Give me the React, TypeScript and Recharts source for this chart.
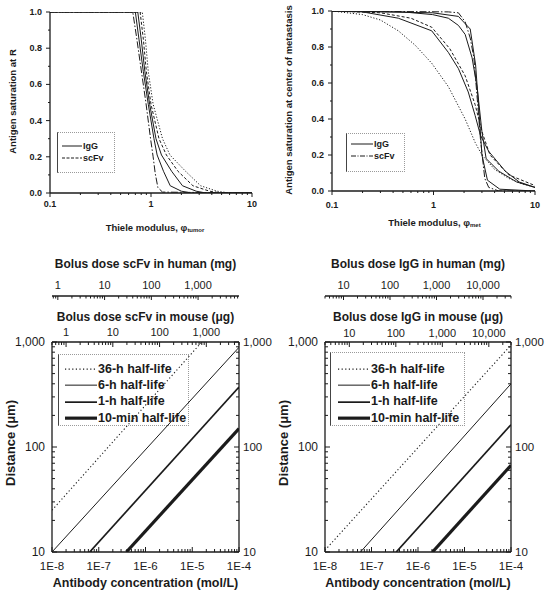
import React from 'react';
import { LineChart, Line, XAxis, YAxis, Legend, Label } from 'recharts';

const FONT = '"Liberation Sans", Arial, Helvetica, sans-serif';
const INK = '#1b1b1b';

type Pt = { x: number; y: number };
type Dose = { c: number; d: number };

// top-left: antigen saturation at R vs tumor Thiele modulus
const tumorA: Pt[] = [
  { x: 0.1, y: 1 }, { x: 0.66, y: 1 }, { x: 0.72, y: 0.86 }, { x: 0.8, y: 0.68 }, { x: 0.89, y: 0.5 },
  { x: 0.99, y: 0.3 }, { x: 1.05, y: 0.2 }, { x: 1.1, y: 0.11 }, { x: 1.17, y: 0.03 }, { x: 1.3, y: 0.005 }, { x: 10, y: 0 },
];
const tumorB: Pt[] = [
  { x: 0.1, y: 1 }, { x: 0.7, y: 1 }, { x: 0.76, y: 0.85 }, { x: 0.84, y: 0.67 }, { x: 0.94, y: 0.49 },
  { x: 1.07, y: 0.3 }, { x: 1.15, y: 0.21 }, { x: 1.33, y: 0.12 }, { x: 1.55, y: 0.04 }, { x: 2, y: 0.01 }, { x: 2.5, y: 0 }, { x: 10, y: 0 },
];
const tumorC: Pt[] = [
  { x: 0.1, y: 1 }, { x: 0.74, y: 1 }, { x: 0.8, y: 0.85 }, { x: 0.87, y: 0.67 }, { x: 0.97, y: 0.49 },
  { x: 1.12, y: 0.3 }, { x: 1.27, y: 0.21 }, { x: 1.6, y: 0.12 }, { x: 2.05, y: 0.04 }, { x: 2.8, y: 0.01 }, { x: 3.5, y: 0 }, { x: 10, y: 0 },
];
const tumorD: Pt[] = [
  { x: 0.1, y: 1 }, { x: 0.78, y: 1 }, { x: 0.84, y: 0.85 }, { x: 0.9, y: 0.67 }, { x: 1.0, y: 0.49 },
  { x: 1.2, y: 0.3 }, { x: 1.42, y: 0.21 }, { x: 1.85, y: 0.12 }, { x: 2.6, y: 0.04 }, { x: 3.8, y: 0.01 }, { x: 5, y: 0 }, { x: 10, y: 0 },
];
const tumorE: Pt[] = [
  { x: 0.1, y: 1 }, { x: 0.82, y: 1 }, { x: 0.88, y: 0.85 }, { x: 0.94, y: 0.67 }, { x: 1.05, y: 0.49 },
  { x: 1.3, y: 0.3 }, { x: 1.54, y: 0.21 }, { x: 2.2, y: 0.12 }, { x: 3.1, y: 0.04 }, { x: 4.5, y: 0.01 }, { x: 6, y: 0 }, { x: 10, y: 0 },
];

// top-right: saturation at the center of a metastasis
const metA: Pt[] = [
  { x: 0.1, y: 1 }, { x: 0.2, y: 0.98 }, { x: 0.3, y: 0.95 }, { x: 0.45, y: 0.89 }, { x: 0.66, y: 0.81 },
  { x: 0.96, y: 0.71 }, { x: 1.4, y: 0.58 }, { x: 2.05, y: 0.4 }, { x: 2.57, y: 0.27 }, { x: 3, y: 0.2 },
  { x: 4, y: 0.12 }, { x: 5.5, y: 0.07 }, { x: 7.5, y: 0.04 }, { x: 10, y: 0.02 },
];
const metB: Pt[] = [
  { x: 0.1, y: 1 }, { x: 0.2, y: 0.995 }, { x: 0.45, y: 0.96 }, { x: 0.96, y: 0.89 }, { x: 1.4, y: 0.77 },
  { x: 1.76, y: 0.68 }, { x: 2.2, y: 0.55 }, { x: 2.57, y: 0.42 }, { x: 2.9, y: 0.31 }, { x: 3.5, y: 0.22 },
  { x: 5.1, y: 0.11 }, { x: 7, y: 0.05 }, { x: 10, y: 0.02 },
];
const metC: Pt[] = [
  { x: 0.1, y: 1 }, { x: 0.3, y: 0.99 }, { x: 0.6, y: 0.96 }, { x: 0.96, y: 0.91 }, { x: 1.45, y: 0.79 },
  { x: 2.05, y: 0.64 }, { x: 2.57, y: 0.48 }, { x: 3, y: 0.33 }, { x: 3.6, y: 0.2 }, { x: 5.5, y: 0.09 }, { x: 10, y: 0.03 },
];
const metD: Pt[] = [
  { x: 0.1, y: 1 }, { x: 0.5, y: 0.995 }, { x: 0.98, y: 0.98 }, { x: 1.4, y: 0.96 }, { x: 1.76, y: 0.92 },
  { x: 2.05, y: 0.87 }, { x: 2.4, y: 0.74 }, { x: 2.7, y: 0.57 }, { x: 3, y: 0.33 }, { x: 3.3, y: 0.18 },
  { x: 4.4, y: 0.11 }, { x: 6.6, y: 0.05 }, { x: 10, y: 0.02 },
];
const metE: Pt[] = [
  { x: 0.1, y: 1 }, { x: 1.4, y: 0.995 }, { x: 1.76, y: 0.99 }, { x: 2.05, y: 0.94 }, { x: 2.3, y: 0.85 },
  { x: 2.5, y: 0.74 }, { x: 2.7, y: 0.51 }, { x: 2.9, y: 0.29 }, { x: 3.2, y: 0.07 }, { x: 3.5, y: 0.02 }, { x: 4.4, y: 0 }, { x: 10, y: 0 },
];
const metF: Pt[] = [
  { x: 0.1, y: 1 }, { x: 0.98, y: 0.99 }, { x: 1.76, y: 0.97 }, { x: 2.3, y: 0.9 }, { x: 2.6, y: 0.7 },
  { x: 2.8, y: 0.45 }, { x: 3, y: 0.2 }, { x: 3.4, y: 0.06 }, { x: 4.5, y: 0.01 }, { x: 10, y: 0 },
];

// bottom: penetration distance vs antibody concentration (straight on log-log)
const scfv36h: Dose[] = [{ c: 1e-8, d: 25 }, { c: 1.6e-5, d: 1000 }];
const scfv6h: Dose[] = [{ c: 1e-8, d: 10 }, { c: 1e-4, d: 890 }];
const scfv1h: Dose[] = [{ c: 6.4e-8, d: 10 }, { c: 1e-4, d: 372 }];
const scfv10m: Dose[] = [{ c: 3.9e-7, d: 10 }, { c: 1e-4, d: 150 }];

const igg36h: Dose[] = [{ c: 1e-8, d: 10.4 }, { c: 1e-4, d: 935 }];
const igg6h: Dose[] = [{ c: 5.8e-8, d: 10 }, { c: 1e-4, d: 400 }];
const igg1h: Dose[] = [{ c: 3.4e-7, d: 10 }, { c: 1e-4, d: 163 }];
const igg10m: Dose[] = [{ c: 2.05e-6, d: 10 }, { c: 1e-4, d: 67 }];

// ticks
const thieleRange: [number, number] = [0.1, 10];
const thieleMajors = [0.1, 1, 10];
const thieleLabels = ['0.1', '1', '10'];
const satTicks = [0, 0.1, 0.2, 0.3, 0.4, 0.5, 0.6, 0.7, 0.8, 0.9, 1];
const satMajors = [0, 0.2, 0.4, 0.6, 0.8, 1];
const satLabels = ['0.0', '0.2', '0.4', '0.6', '0.8', '1.0'];
const concMajors = [1e-8, 1e-7, 1e-6, 1e-5, 1e-4];
const concLabels = ['1E-8', '1E-7', '1E-6', '1E-5', '1E-4'];
const distMajors = [10, 100, 1000];
const distLabels = ['10', '100', '1,000'];
const scfvDoseMajors = [1, 10, 100, 1000];
const scfvDoseLabels = ['1', '10', '100', '1,000'];
const iggDoseMajors = [10, 100, 1000, 10000];
const iggDoseLabels = ['10', '100', '1,000', '10,000'];
// dose values at the two ends of the concentration axis (1E-8 .. 1E-4)
const scfvMouseRange: [number, number] = [0.5, 5000];
const scfvHumanRange: [number, number] = [0.75, 7500];
const iggMouseRange: [number, number] = [3, 30000];
const iggHumanRange: [number, number] = [4, 40000];

const halfLifeKeys = [
  { name: '36-h half-life', dash: '1.2 2.4', width: 1.1 },
  { name: '6-h half-life', width: 1 },
  { name: '1-h half-life', width: 1.7 },
  { name: '10-min half-life', width: 3.2 },
];

function logTicks(lo: number, hi: number) {
  const out: number[] = [];
  for (let e = Math.floor(Math.log10(lo)); e <= Math.ceil(Math.log10(hi)); e++) {
    for (let m = 1; m < 10; m++) {
      const v = +(m * Math.pow(10, e)).toPrecision(6);
      if (v >= lo * (1 - 1e-9) && v <= hi * (1 + 1e-9)) out.push(v);
    }
  }
  return out;
}

const same = (a: number, b: number) => (a === 0 ? Math.abs(b) < 1e-12 : Math.abs(a - b) <= 1e-6 * Math.abs(a));

type Side = 'top' | 'bottom' | 'left' | 'right';
type TickSpec = {
  side: Side; inward: boolean; big: number; small: number; gap: number;
  majors: number[]; labels?: string[]; size?: number; weight?: string;
};

// tickSize/tickMargin are 0, so x/y handed in is the axis line itself
function axisTick(s: TickSpec) {
  return (p: any) => {
    const { x, y } = p;
    const v = p.payload.value as number;
    const i = s.majors.findIndex((m) => same(m, v));
    const len = i >= 0 ? s.big : s.small;
    const k = s.inward ? 1 : -1;
    const text = i >= 0 && s.labels ? s.labels[i] : '';
    const font = { fontFamily: FONT, fontSize: s.size ?? 12, fontWeight: s.weight ?? 'normal', fill: INK };
    if (s.side === 'bottom' || s.side === 'top') {
      const dir = s.side === 'bottom' ? -1 : 1;
      return (
        <g>
          <line x1={x} x2={x} y1={y} y2={y + dir * k * len} stroke={INK} strokeWidth={1} />
          {text && (
            <text x={x} y={y - dir * s.gap} textAnchor="middle" dominantBaseline="central" {...font}>{text}</text>
          )}
        </g>
      );
    }
    const dir = s.side === 'left' ? 1 : -1;
    return (
      <g>
        <line x1={x} x2={x + dir * k * len} y1={y} y2={y} stroke={INK} strokeWidth={1} />
        {text && (
          <text x={x - dir * s.gap} y={y} textAnchor={s.side === 'left' ? 'end' : 'start'} dominantBaseline="central" {...font}>{text}</text>
        )}
      </g>
    );
  };
}

const xTitle = (text: React.ReactNode, dy: number, size: number, dx = 0) => (props: any) => {
  const vb = props.viewBox;
  return (
    <text x={vb.x + vb.width / 2 + dx} y={vb.y + dy} textAnchor="middle" dominantBaseline="central"
      fontFamily={FONT} fontSize={size} fontWeight="bold" fill={INK}>{text}</text>
  );
};

const yTitle = (text: string, cx: number, size: number, dy = 0) => (props: any) => {
  const vb = props.viewBox;
  const x = vb.x + cx;
  const y = vb.y + vb.height / 2 + dy;
  return (
    <text x={x} y={y} transform={`rotate(-90 ${x} ${y})`} textAnchor="middle" dominantBaseline="central"
      fontFamily={FONT} fontSize={size} fontWeight="bold" fill={INK}>{text}</text>
  );
};

type KeyItem = { name: string; dash?: string; width?: number };

function KeyBox(props: { items: KeyItem[]; padTop: number; rowH: number; ml: number; w: number; size: number }) {
  const { items, padTop, rowH, ml, w, size } = props;
  return (
    <div style={{
      boxSizing: 'border-box', width: '100%', height: '100%', paddingTop: padTop,
      border: '1px dotted #9a9a9a', borderLeft: '1.4px solid #444', textAlign: 'left',
    }}>
      {items.map((it) => (
        <div key={it.name} style={{ display: 'flex', alignItems: 'center', height: rowH }}>
          <svg width={w} height={rowH} style={{ marginLeft: ml, flex: 'none' }}>
            <line x1={0} x2={w} y1={rowH / 2} y2={rowH / 2} stroke={INK} strokeWidth={it.width ?? 1} strokeDasharray={it.dash} />
          </svg>
          <span style={{ marginLeft: 1, fontFamily: FONT, fontSize: size, fontWeight: 'bold', color: INK, lineHeight: 1, whiteSpace: 'nowrap' }}>
            {it.name}
          </span>
        </div>
      ))}
    </div>
  );
}

const frame = { stroke: INK, strokeWidth: 1.3 };

// an invisible series that gives a data-less secondary axis something to bind to
function Anchor(xKey: string, yKey: string, range: [number, number], y: number, xAxisId: string) {
  return (
    <Line xAxisId={xAxisId} data={[{ [xKey]: range[0], [yKey]: y }, { [xKey]: range[1], [yKey]: y }]} dataKey={yKey}
      stroke="none" dot={false} activeDot={false} legendType="none" isAnimationActive={false} />
  );
}

type Curve = { data: Pt[]; dash?: string; width?: number };

function SatPanel(p: {
  width: number; margin: any; yW: number; xH: number; curves: Curve[];
  yText: string; yCx: number; sub: string; xGap: number; titleDy: number; titleDx: number;
  keyPos: any; keys: KeyItem[]; keyPad: number; keyMl: number; keyW: number;
}) {
  const xTicks = logTicks(thieleRange[0], thieleRange[1]);
  return (
    <LineChart width={p.width} height={240} margin={p.margin}>
      <XAxis dataKey="x" type="number" scale="log" domain={thieleRange} allowDataOverflow ticks={xTicks} interval={0}
        height={p.xH} tickSize={0} tickMargin={0} tickLine={false} axisLine={frame}
        tick={axisTick({ side: 'bottom', inward: false, big: 4, small: 2, gap: p.xGap, majors: thieleMajors, labels: thieleLabels, size: 9, weight: 'bold' })}>
        <Label content={xTitle(
          <>Thiele modulus, φ<tspan fontSize={6} dy={3}>{p.sub}</tspan></>, p.titleDy, 9.5, p.titleDx)} />
      </XAxis>
      <XAxis xAxisId="top" dataKey="x" orientation="top" type="number" scale="log" domain={thieleRange} allowDataOverflow ticks={xTicks}
        interval={0} height={0} tickSize={0} tickMargin={0} tickLine={false} axisLine={frame}
        tick={axisTick({ side: 'top', inward: false, big: 4, small: 2, gap: 0, majors: thieleMajors })} />
      <YAxis type="number" domain={[0, 1]} allowDataOverflow ticks={satTicks} interval={0} width={p.yW}
        tickSize={0} tickMargin={0} tickLine={false} axisLine={frame}
        tick={axisTick({ side: 'left', inward: false, big: 4, small: 2, gap: 8, majors: satMajors, labels: satLabels, size: 9, weight: 'bold' })}>
        <Label content={yTitle(p.yText, p.yCx, 9.5, -1)} />
      </YAxis>
      <YAxis yAxisId="r" orientation="right" type="number" domain={[0, 1]} allowDataOverflow ticks={satTicks} interval={0}
        width={0} tickSize={0} tickMargin={0} tickLine={false} axisLine={frame}
        tick={axisTick({ side: 'right', inward: false, big: 4, small: 2, gap: 0, majors: satMajors })} />
      {Anchor('x', 'y', thieleRange, 0, 'top')}
      {p.curves.map((c, i) => (
        <Line key={i} data={c.data} dataKey="y" type="linear" stroke={INK} strokeWidth={c.width ?? 1}
          strokeDasharray={c.dash} dot={false} activeDot={false} isAnimationActive={false} />
      ))}
      <Legend layout="horizontal" verticalAlign="middle" align="center" wrapperStyle={p.keyPos}
        content={() => <KeyBox items={p.keys} padTop={p.keyPad} rowH={12} ml={p.keyMl} w={p.keyW} size={9} />} />
    </LineChart>
  );
}

function DosePanel(p: {
  width: number; rW: number; lines: Dose[][];
  mouse: [number, number]; human: [number, number]; doseMajors: number[]; doseLabels: string[];
  mouseTitle: string; humanTitle: string; mouseGap: number; humanGap: number;
  keyPos: any; keyPad: number; keyMl: number;
}) {
  const inTick = { inward: true, big: 5, small: 3 };
  return (
    <LineChart width={p.width} height={354} margin={{ top: 0, right: 0, bottom: 0, left: 0 }}>
      <XAxis dataKey="c" type="number" scale="log" domain={[1e-8, 1e-4]} allowDataOverflow ticks={logTicks(1e-8, 1e-4)}
        interval={0} height={42} tickSize={0} tickMargin={0} tickLine={false} axisLine={frame}
        tick={axisTick({ side: 'bottom', ...inTick, gap: 13.5, majors: concMajors, labels: concLabels, size: 11.5 })}>
        <Label content={xTitle('Antibody concentration (mol/L)', 30.5, 12.5)} />
      </XAxis>
      {/* top axes are stacked by id: "dose1" (mouse) sits on the frame, "dose2" (human) above it */}
      <XAxis xAxisId="dose1" dataKey="c" orientation="top" type="number" scale="log" domain={p.mouse} allowDataOverflow
        ticks={logTicks(p.mouse[0], p.mouse[1])} interval={0} height={46} tickSize={0} tickMargin={0} tickLine={false}
        axisLine={frame}
        tick={axisTick({ side: 'top', ...inTick, gap: p.mouseGap, majors: p.doseMajors, labels: p.doseLabels, size: 11 })}>
        <Label content={xTitle(p.mouseTitle, 20.5, 12)} />
      </XAxis>
      <XAxis xAxisId="dose2" dataKey="c" orientation="top" type="number" scale="log" domain={p.human} allowDataOverflow
        ticks={logTicks(p.human[0], p.human[1])} interval={0} height={56} tickSize={0} tickMargin={0} tickLine={false}
        axisLine={frame}
        tick={axisTick({ side: 'top', inward: true, big: 4, small: 2.5, gap: p.humanGap, majors: p.doseMajors, labels: p.doseLabels, size: 11 })}>
        <Label content={xTitle(p.humanTitle, 24, 12)} />
      </XAxis>
      <YAxis type="number" scale="log" domain={[10, 1000]} allowDataOverflow ticks={logTicks(10, 1000)} interval={0}
        width={52} tickSize={0} tickMargin={0} tickLine={false} axisLine={frame}
        tick={axisTick({ side: 'left', ...inTick, gap: 7, majors: distMajors, labels: distLabels, size: 12 })}>
        <Label content={yTitle('Distance (μm)', 10, 13, -4)} />
      </YAxis>
      <YAxis yAxisId="r" orientation="right" type="number" scale="log" domain={[10, 1000]} allowDataOverflow
        ticks={logTicks(10, 1000)} interval={0} width={p.rW} tickSize={0} tickMargin={0} tickLine={false} axisLine={frame}
        tick={axisTick({ side: 'right', ...inTick, gap: 4, majors: distMajors, labels: distLabels, size: 11.5 })} />
      {Anchor('c', 'd', p.mouse, 10, 'dose1')}
      {Anchor('c', 'd', p.human, 10, 'dose2')}
      {p.lines.map((d, i) => (
        <Line key={halfLifeKeys[i].name} data={d} dataKey="d" type="linear" stroke={INK}
          strokeWidth={halfLifeKeys[i].width} strokeDasharray={halfLifeKeys[i].dash}
          dot={false} activeDot={false} isAnimationActive={false} />
      ))}
      <Legend layout="horizontal" verticalAlign="middle" align="center" wrapperStyle={p.keyPos}
        content={() => <KeyBox items={halfLifeKeys} padTop={p.keyPad} rowH={16.3} ml={p.keyMl} w={32} size={12.5} />} />
    </LineChart>
  );
}

export default function App() {
  return (
    <div style={{ position: 'absolute', left: 0, top: 0, width: 547, height: 594, background: '#fff', fontFamily: FONT }}>
      <div style={{ position: 'absolute', left: 0, top: 0 }}>
        <SatPanel width={273} margin={{ top: 12, right: 21, left: 0, bottom: 0 }} yW={50} xH={47}
          curves={[
            { data: tumorA, dash: '7 2 1.5 2' },
            { data: tumorB },
            { data: tumorC },
            { data: tumorD, dash: '3 2' },
            { data: tumorE, dash: '1.2 1.8' },
          ]}
          yText="Antigen saturation at R" yCx={12} sub="tumor" xGap={11} titleDy={34} titleDx={4}
          keyPos={{ left: 57, top: 132, width: 58, height: 41 }}
          keys={[{ name: 'IgG' }, { name: 'scFv', dash: '3 1.5' }]} keyPad={7} keyMl={4} keyW={20} />
      </div>
      <div style={{ position: 'absolute', left: 273, top: 0 }}>
        <SatPanel width={274} margin={{ top: 11, right: 12, left: 0, bottom: 0 }} yW={59} xH={49}
          curves={[
            { data: metA, dash: '1.2 1.8' },
            { data: metB },
            { data: metC, dash: '3 2' },
            { data: metD },
            { data: metE, dash: '7 2 1.5 2' },
            { data: metF },
          ]}
          yText="Antigen saturation at center of metastasis" yCx={15} sub="met" xGap={14} titleDy={31} titleDx={1}
          keyPos={{ left: 73, top: 133, width: 59, height: 39 }}
          keys={[{ name: 'IgG' }, { name: 'scFv', dash: '5 1.5 1 1.5' }]} keyPad={4} keyMl={4} keyW={22} />
      </div>
      <div style={{ position: 'absolute', left: 0, top: 240 }}>
        <DosePanel width={273} rW={34} lines={[scfv36h, scfv6h, scfv1h, scfv10m]}
          mouse={scfvMouseRange} human={scfvHumanRange} doseMajors={scfvDoseMajors} doseLabels={scfvDoseLabels}
          mouseTitle="Bolus dose scFv in mouse (μg)" humanTitle="Bolus dose scFv in human (mg)" mouseGap={10} humanGap={11}
          keyPos={{ left: 58, top: 114, width: 131, height: 72 }} keyPad={6} keyMl={6} />
      </div>
      <div style={{ position: 'absolute', left: 273, top: 240 }}>
        <DosePanel width={274} rW={36} lines={[igg36h, igg6h, igg1h, igg10m]}
          mouse={iggMouseRange} human={iggHumanRange} doseMajors={iggDoseMajors} doseLabels={iggDoseLabels}
          mouseTitle="Bolus dose IgG in mouse (μg)" humanTitle="Bolus dose IgG in human (mg)" mouseGap={9} humanGap={10.7}
          keyPos={{ left: 57, top: 112, width: 135, height: 74 }} keyPad={8} keyMl={7} />
      </div>
    </div>
  );
}
